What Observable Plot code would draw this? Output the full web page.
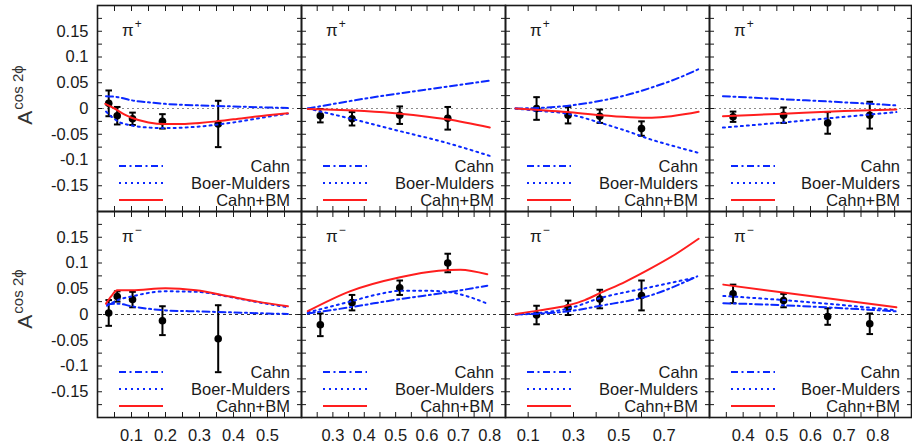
<!DOCTYPE html>
<html><head><meta charset="utf-8">
<script src="https://cdn.jsdelivr.net/npm/d3@7"></script>
<script src="https://cdn.jsdelivr.net/npm/@observablehq/plot@0.6"></script>
<style>
body{margin:0;background:#fff;}
#chart{position:relative;width:912px;height:445px;overflow:hidden;font-family:"Liberation Sans",Arial,sans-serif;color:#1a1a1a;background:#fff;}
.leg{position:absolute;pointer-events:none;}
.leg .row{position:absolute;left:0;right:0;height:18px;}
.leg .txt{position:absolute;right:11px;top:0;font-size:16.5px;line-height:18px;white-space:nowrap;color:#1a1a1a;}
.leg svg{position:absolute;left:22px;top:7px;}
.pi{position:absolute;font-size:17px;line-height:20px;white-space:nowrap;color:#1a1a1a;}
.pi .s{font-size:12px;position:relative;top:-8px;margin-left:1px;}
.ytitle{position:absolute;width:200px;height:24px;line-height:24px;text-align:center;font-size:21px;color:#333;transform:rotate(-90deg);white-space:nowrap;}
.ytitle .s{font-size:15px;position:relative;top:-9px;margin-left:1px;}
</style></head><body><div id="chart"></div>
<script>
// ---------- tick values and labels ----------
const yTicks = [-0.175,-0.15,-0.125,-0.1,-0.075,-0.05,-0.025,0,0.025,0.05,0.075,0.1,0.125,0.15,0.175];
const yTickLabels = [-0.15,-0.1,-0.05,0,0.05,0.1,0.15];
const xTicks1 = [0.05,0.1,0.15,0.2,0.25,0.3,0.35,0.4,0.45,0.5,0.55];
const xTickLabels1 = [0.1,0.2,0.3,0.4,0.5];
const xTicks2 = [0.25,0.3,0.35,0.4,0.45,0.5,0.55,0.6,0.65,0.7,0.75,0.8];
const xTickLabels2 = [0.3,0.4,0.5,0.6,0.7,0.8];
const xTicks3 = [0.1,0.2,0.3,0.4,0.5,0.6,0.7,0.8];
const xTickLabels3 = [0.1,0.3,0.5,0.7];
const xTicks4 = [0.35,0.4,0.45,0.5,0.55,0.6,0.65,0.7,0.75,0.8,0.85];
const xTickLabels4 = [0.4,0.5,0.6,0.7,0.8];
const xDomains = [[0,0.6],[0.2,0.85],[0,0.9],[0.3,0.9]];
const yDomain = [-0.2,0.2];

// ---------- legend / labels ----------
const legendNames = ["Cahn","Boer-Mulders","Cahn+BM"];
const hadronLabels = ["+","\u2212"];

// ---------- column 1 ----------
const x1Points = [0.033,0.058,0.103,0.191,0.355];
const plus1Asym = [0.010,-0.014,-0.020,-0.025,-0.030];
const plus1Err  = [0.025,0.017,0.012,0.014,0.045];
const minus1Asym = [0.003,0.035,0.029,-0.012,-0.047];
const minus1Err  = [0.025,0.010,0.015,0.028,0.065];
const plus1Cahn = [[0.025,0.024],[0.06,0.022],[0.1,0.016],[0.15,0.012],[0.2,0.009],[0.3,0.006],[0.4,0.004],[0.5,0.002],[0.56,0.001]];
const plus1BM   = [[0.025,-0.006],[0.06,-0.025],[0.1,-0.033],[0.15,-0.037],[0.2,-0.038],[0.3,-0.035],[0.4,-0.027],[0.5,-0.016],[0.56,-0.010]];
const plus1Sum  = [[0.023,0.009],[0.05,0.0],[0.08,-0.012],[0.1,-0.018],[0.15,-0.027],[0.2,-0.030],[0.25,-0.030],[0.3,-0.028],[0.35,-0.025],[0.4,-0.021],[0.5,-0.013],[0.56,-0.009]];
const minus1Cahn = [[0.028,0.020],[0.06,0.021],[0.1,0.016],[0.2,0.008],[0.3,0.006],[0.4,0.004],[0.5,0.002],[0.56,0.001]];
const minus1BM   = [[0.028,0.017],[0.06,0.028],[0.1,0.035],[0.2,0.045],[0.29,0.044],[0.39,0.034],[0.47,0.024],[0.56,0.014]];
const minus1Sum  = [[0.025,0.021],[0.04,0.035],[0.058,0.047],[0.1,0.047],[0.2,0.051],[0.29,0.047],[0.39,0.035],[0.47,0.025],[0.56,0.016]];

// ---------- column 2 ----------
const x2Points = [0.26,0.361,0.513,0.666];
const plus2Asym = [-0.014,-0.020,-0.013,-0.019];
const plus2Err  = [0.013,0.013,0.017,0.022];
const minus2Asym = [-0.020,0.023,0.052,0.100];
const minus2Err  = [0.022,0.015,0.014,0.018];
const plus2Cahn = [[0.22,0.0],[0.4,0.019],[0.6,0.037],[0.8,0.054]];
const plus2BM   = [[0.22,0.0],[0.365,-0.021],[0.514,-0.044],[0.664,-0.067],[0.8,-0.092]];
const plus2Sum  = [[0.22,-0.001],[0.4,-0.005],[0.514,-0.010],[0.664,-0.021],[0.8,-0.037]];
const minus2Cahn = [[0.22,0.002],[0.354,0.014],[0.514,0.030],[0.666,0.043],[0.792,0.056]];
const minus2BM   = [[0.22,0.004],[0.354,0.025],[0.45,0.040],[0.514,0.046],[0.6,0.046],[0.666,0.044],[0.73,0.035],[0.792,0.021]];
const minus2Sum  = [[0.22,0.0065],[0.354,0.045],[0.514,0.0725],[0.637,0.085],[0.706,0.087],[0.792,0.078]];

// ---------- column 3 ----------
const x3Points = [0.137,0.276,0.416,0.600];
const plus3Asym = [0.0,-0.013,-0.015,-0.039];
const plus3Err  = [0.022,0.016,0.013,0.014];
const minus3Asym = [-0.001,0.013,0.030,0.037];
const minus3Err  = [0.018,0.014,0.018,0.029];
const plus3Cahn = [[0.044,0.0],[0.15,0.001],[0.27,0.005],[0.42,0.015],[0.55,0.028],[0.64,0.040],[0.75,0.057],[0.85,0.076]];
const plus3BM   = [[0.044,0.0],[0.13,-0.004],[0.27,-0.010],[0.42,-0.028],[0.55,-0.046],[0.64,-0.060],[0.75,-0.074],[0.85,-0.086]];
const plus3Sum  = [[0.044,0.0],[0.272,-0.007],[0.419,-0.013],[0.646,-0.018],[0.852,-0.0065]];
const minus3Cahn = [[0.044,0.0],[0.272,0.006],[0.419,0.017],[0.639,0.037],[0.846,0.074]];
const minus3BM   = [[0.044,0.0],[0.272,0.011],[0.419,0.032],[0.639,0.053],[0.84,0.072]];
const minus3Sum  = [[0.044,0.001],[0.15,0.008],[0.272,0.0175],[0.35,0.028],[0.419,0.042],[0.53,0.064],[0.639,0.089],[0.75,0.117],[0.852,0.147]];

// ---------- column 4 ----------
const x4Points = [0.370,0.520,0.651,0.776];
const plus4Asym = [-0.016,-0.013,-0.028,-0.013];
const plus4Err  = [0.010,0.015,0.021,0.026];
const minus4Asym = [0.040,0.027,-0.004,-0.018];
const minus4Err  = [0.018,0.013,0.016,0.020];
const plus4Cahn = [[0.34,0.024],[0.52,0.018],[0.7,0.012],[0.855,0.006]];
const plus4BM   = [[0.34,-0.037],[0.52,-0.027],[0.67,-0.018],[0.855,-0.007]];
const plus4Sum  = [[0.34,-0.015],[0.52,-0.010],[0.7,-0.005],[0.855,-0.002]];
const minus4Cahn = [[0.341,0.022],[0.52,0.018],[0.7,0.012],[0.855,0.006]];
const minus4BM   = [[0.341,0.036],[0.52,0.028],[0.7,0.018],[0.855,0.008]];
const minus4Sum  = [[0.341,0.058],[0.855,0.014]];

// ---------- assembling tables for the library ----------
const xTickSets = [xTicks1,xTicks2,xTicks3,xTicks4];
const xLabelSets = [xTickLabels1,xTickLabels2,xTickLabels3,xTickLabels4];
const pointX = [x1Points,x2Points,x3Points,x4Points];
const asym = [[plus1Asym,plus2Asym,plus3Asym,plus4Asym],[minus1Asym,minus2Asym,minus3Asym,minus4Asym]];
const errs = [[plus1Err,plus2Err,plus3Err,plus4Err],[minus1Err,minus2Err,minus3Err,minus4Err]];
const cahn = [[plus1Cahn,plus2Cahn,plus3Cahn,plus4Cahn],[minus1Cahn,minus2Cahn,minus3Cahn,minus4Cahn]];
const bm = [[plus1BM,plus2BM,plus3BM,plus4BM],[minus1BM,minus2BM,minus3BM,minus4BM]];
const sum = [[plus1Sum,plus2Sum,plus3Sum,plus4Sum],[minus1Sum,minus2Sum,minus3Sum,minus4Sum]];

// ---------- layout ----------
const colEdges = [97,301,505,709,911];
const rowEdges = [4.5,210.5,416.5];
const BLUE = "#0a28ff", RED = "#ff1e1e", INK = "#1a1a1a";
const cahnDash = "7,3.5,2,3.5", bmDash = "2,4";

const capSymbol = {draw(ctx, size){ const w = Math.sqrt(size/Math.PI); ctx.moveTo(-w,0); ctx.lineTo(w,0); }};
const fmt = d => d === 0 ? "0" : String(d);
const chart = document.getElementById("chart");

for (let r = 0; r < 2; r++) {
  for (let c = 0; c < 4; c++) {
    const L = colEdges[c], W = colEdges[c+1]-colEdges[c];
    const T = rowEdges[r], H = rowEdges[r+1]-rowEdges[r];
    const pts = pointX[c].map((x,i) => ({x, y: asym[r][c][i], e: errs[r][c][i]}));
    const line = (arr, o) => Plot.line(arr, {x: d => d[0], y: d => d[1], curve: "monotone-x", strokeWidth: 2, ...o});
    const marks = [
      Plot.ruleY([0], {stroke: r === 0 ? "#8a8a8a" : "#333", strokeDasharray: r === 0 ? "2,3" : "3,3", strokeWidth: 1}),
      Plot.ruleX(pts, {x: "x", y1: d => d.y - d.e, y2: d => d.y + d.e, stroke: "#000", strokeWidth: 2}),
      Plot.dot(pts, {x: "x", y: d => d.y + d.e, symbol: capSymbol, r: 3.3, stroke: "#000", fill: "none", strokeWidth: 2}),
      Plot.dot(pts, {x: "x", y: d => d.y - d.e, symbol: capSymbol, r: 3.3, stroke: "#000", fill: "none", strokeWidth: 2}),
      Plot.dot(pts, {x: "x", y: "y", r: 3.8, fill: "#000", stroke: "none"}),
      line(cahn[r][c], {stroke: BLUE, strokeDasharray: cahnDash}),
      line(bm[r][c], {stroke: BLUE, strokeDasharray: bmDash}),
      line(sum[r][c], {stroke: RED}),
      Plot.frame({stroke: INK, strokeWidth: 1.6}),
      Plot.axisY(yTicks, {anchor: "left", tickSize: -5, tickFormat: () => "", label: null, stroke: INK}),
      Plot.axisY(yTicks, {anchor: "right", tickSize: -5, tickFormat: () => "", label: null, stroke: INK}),
      Plot.axisX(xTickSets[c], {anchor: "bottom", tickSize: -5, tickFormat: () => "", label: null, stroke: INK}),
      Plot.axisX(xTickSets[c], {anchor: "top", tickSize: -5, tickFormat: () => "", label: null, stroke: INK})
    ];
    if (c === 0) marks.push(Plot.axisY(yTickLabels, {anchor: "left", tickSize: 0, tickPadding: 9, tickFormat: fmt, label: null, fontSize: 16.5, fill: INK}));
    if (r === 1) marks.push(Plot.axisX(xLabelSets[c], {anchor: "bottom", tickSize: 0, tickPadding: 12, tickFormat: fmt, label: null, fontSize: 16.5, fill: INK}));
    const svg = Plot.plot({
      width: W, height: H,
      marginTop: 0, marginRight: 0, marginBottom: 0, marginLeft: 0,
      x: {domain: xDomains[c], label: null},
      y: {domain: yDomain, label: null},
      marks
    });
    Object.assign(svg.style, {position: "absolute", left: L + "px", top: T + "px", overflow: "visible",
      fontSize: "16px", fontFamily: '"Liberation Sans", Arial, sans-serif', color: INK, background: "none"});
    chart.appendChild(svg);

    // hadron label
    const pi = document.createElement("div");
    pi.className = "pi";
    pi.style.left = (L + 25) + "px"; pi.style.top = (T + 16) + "px";
    pi.innerHTML = 'π<span class="s">' + hadronLabels[r] + '</span>';
    chart.appendChild(pi);

    // legend
    const leg = document.createElement("div");
    leg.className = "leg";
    Object.assign(leg.style, {left: L + "px", top: T + "px", width: W + "px", height: H + "px"});
    const rowsY = [161.5, 178.3, 195];
    const styles = [[BLUE, cahnDash], [BLUE, bmDash], [RED, null]];
    legendNames.forEach((name, i) => {
      const row = document.createElement("div");
      row.className = "row";
      row.style.top = (rowsY[i] - 9) + "px";
      row.innerHTML = `<svg width="44" height="4"><line x1="0" y1="2" x2="44" y2="2" stroke="${styles[i][0]}" stroke-width="2" ${styles[i][1] ? `stroke-dasharray="${styles[i][1]}"` : ""}/></svg><span class="txt">${name}</span>`;
      leg.appendChild(row);
    });
    chart.appendChild(leg);
  }
  const yt = document.createElement("div");
  yt.className = "ytitle";
  const cy = r === 0 ? 94.5 : 299;
  yt.style.left = (25 - 100) + "px"; yt.style.top = (cy - 12) + "px";
  yt.innerHTML = 'A<span class="s">cos 2ϕ</span>';
  chart.appendChild(yt);
}
</script></body></html>
